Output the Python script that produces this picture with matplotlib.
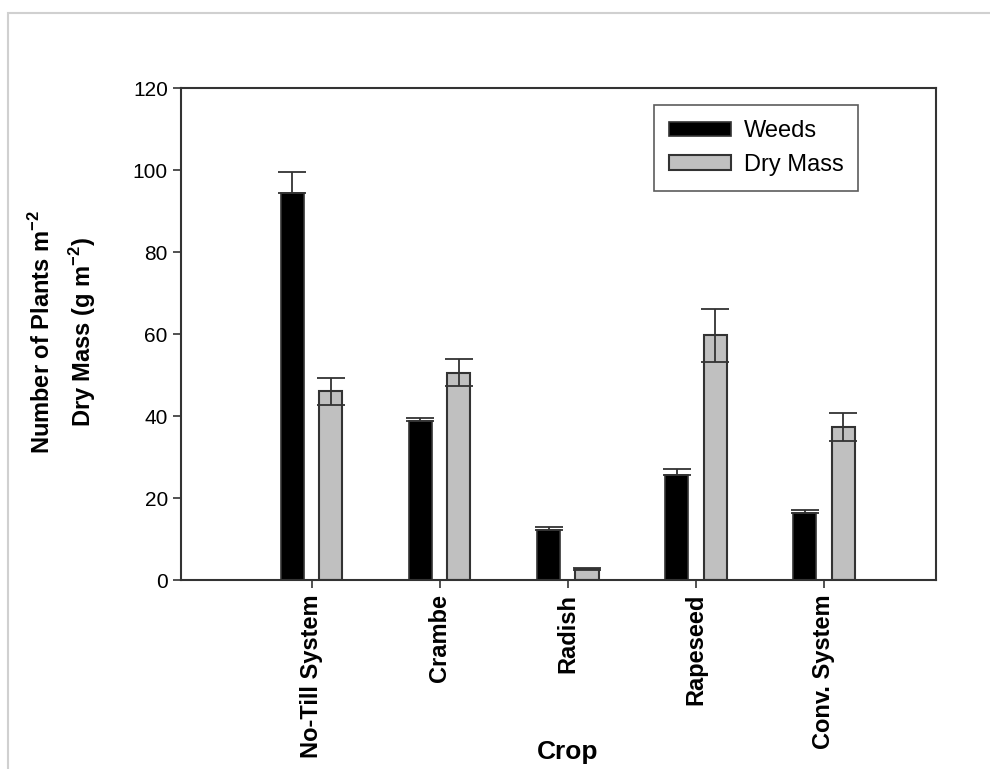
import numpy as np
import matplotlib
matplotlib.use("Agg")
import matplotlib.pyplot as plt
from matplotlib.patches import Rectangle

plt.rcParams['font.family'] = ['Liberation Sans', 'DejaVu Sans']
plt.rcParams['mathtext.fontset'] = 'custom'
plt.rcParams['mathtext.rm'] = 'Liberation Sans'
plt.rcParams['mathtext.bf'] = 'Liberation Sans:bold'

# dados
crops = ["No-Till System", "Crambe", "Radish", "Rapeseed", "Conv. System"]
weeds = [94.5, 38.8, 12.3, 25.5, 16.4]
weeds_err = [5.0, 0.8, 0.7, 1.6, 0.7]
dry_mass = [46.0, 50.5, 2.7, 59.7, 37.4]
dry_mass_err = [3.3, 3.3, 0.3, 6.5, 3.4]

edge = '#333333'

fig = plt.figure(figsize=(9.9, 7.69), dpi=100)
ax = fig.add_axes([181/990, 1 - 580/769, (936-181)/990, (580-88)/769])

x = np.arange(1, len(crops) + 1)
w = 0.18
off = 0.15

ax.bar(x - off, weeds, w, color='black', edgecolor=edge, linewidth=1.2, label='Weeds', zorder=2)
ax.bar(x + off, dry_mass, w, color='#c0c0c0', edgecolor=edge, linewidth=1.5, label='Dry Mass', zorder=2)
# nas barras pretas so aparece a parte de cima do erro
ax.errorbar(x - off, weeds, yerr=[np.zeros(len(weeds)), weeds_err], fmt='none', ecolor=edge,
            elinewidth=1.3, capsize=10, capthick=1.3, zorder=3)
ax.errorbar(x + off, dry_mass, yerr=dry_mass_err, fmt='none', ecolor=edge, elinewidth=1.3,
            capsize=10, capthick=1.3, zorder=3)

ax.set_xlim(x[0] - 1.02, x[-1] + 0.875)
ax.set_ylim(0, 120)
ax.set_yticks(np.arange(0, 121, 20))
ax.set_xticks(x)
ax.set_xticklabels(crops, rotation=90, fontsize=17, fontweight='bold')
ax.tick_params(axis='y', labelsize=15, length=6, width=1.2, color=edge, direction='out')
ax.tick_params(axis='x', length=6, width=1.2, color=edge, direction='out', pad=4)
for s in ax.spines.values():
    s.set_linewidth(1.5)
    s.set_color(edge)

leg = ax.legend(loc='upper right', bbox_to_anchor=(0.897, 0.965), borderaxespad=0,
                fontsize=17, frameon=True, fancybox=False, edgecolor=edge,
                handlelength=2.6, handleheight=0.55, borderpad=0.63, labelspacing=0.5,
                handletextpad=0.55)
leg.get_frame().set_linewidth(1.2)

fig.text(42/990, 1 - 332/769, r"Number of Plants m$^{\mathbf{-2}}$", rotation=90,
         ha='center', va='center', fontsize=17, fontweight='bold')
fig.text(83/990, 1 - 332/769, r"Dry Mass (g m$^{\mathbf{-2}}$)", rotation=90,
         ha='center', va='center', fontsize=17, fontweight='bold')
fig.text(568/990, 1 - 752/769, "Crop", ha='center', va='center', fontsize=19, fontweight='bold')

# moldura cinza clara
fig.add_artist(Rectangle((8/990, -0.2), 1.2, 1 - 13/769 + 0.2, transform=fig.transFigure,
                         fill=False, edgecolor='#d0d0d0', linewidth=1.5))

fig.savefig("out.png", dpi=100)
